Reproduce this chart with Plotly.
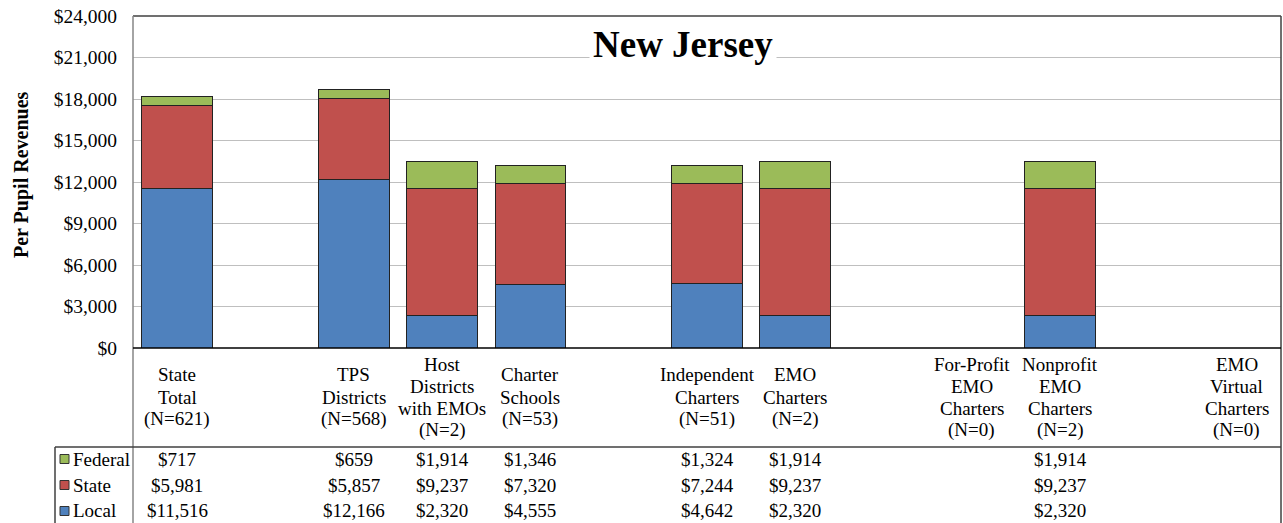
import plotly.graph_objects as go

# ---- data ----
categories = ["State<br>Total<br>(N=621)", "", "TPS<br>Districts<br>(N=568)",
              "Host<br>Districts<br>with EMOs<br>(N=2)", "Charter<br>Schools<br>(N=53)", "",
              "Independent<br>Charters<br>(N=51)", "EMO<br>Charters<br>(N=2)", "",
              "For-Profit<br>EMO<br>Charters<br>(N=0)", "Nonprofit<br>EMO<br>Charters<br>(N=2)", "",
              "EMO<br>Virtual<br>Charters<br>(N=0)"]
local = [11516, None, 12166, 2320, 4555, None, 4642, 2320, None, None, 2320, None, None]
state = [5981, None, 5857, 9237, 7320, None, 7244, 9237, None, None, 9237, None, None]
federal = [717, None, 659, 1914, 1346, None, 1324, 1914, None, None, 1914, None, None]
series_names = ["Federal", "State", "Local"]
colors = {"Local": "#4F81BD", "State": "#C0504D", "Federal": "#9BBB59"}
tick_vals = [0, 3000, 6000, 9000, 12000, 15000, 18000, 21000, 24000]
tick_text = ["$0", "$3,000", "$6,000", "$9,000", "$12,000", "$15,000", "$18,000", "$21,000", "$24,000"]

FONT = "Liberation Serif"
W, H = 1283, 523
L, R, T, B = 133, 2, 16, 175
PW, PH = W - L - R, H - T - B


def xp(px):
    return (px - L) / PW


def yp(py):
    return (H - B - py) / PH


xs = list(range(len(categories)))
fig = go.Figure()
for name, vals in [("Local", local), ("State", state), ("Federal", federal)]:
    fig.add_trace(go.Bar(x=xs, y=vals, name=name, marker_color=colors[name],
                         marker_line=dict(color="#222222", width=1), showlegend=False))

annotations = []
shapes = []
# category labels (one text per line, 22px line spacing, block centred at y=397)
LS = 22
for i, c in enumerate(categories):
    if c:
        lines = c.split("<br>")
        n = len(lines)
        for k, line in enumerate(lines):
            py = 397 + (k - (n - 1) / 2) * LS
            annotations.append(dict(x=i, xref="x", y=yp(py), yref="paper", text=line, showarrow=False,
                                    xanchor="center", yanchor="middle",
                                    font=dict(family=FONT, size=19, color="black")))
# table rows
rows = {"Federal": federal, "State": state, "Local": local}
row_y = {"Federal": 459, "State": 485, "Local": 511}
for name in series_names:
    vals = rows[name]
    y = yp(row_y[name])
    for i, v in enumerate(vals):
        if v is not None:
            annotations.append(dict(x=i, xref="x", y=y, yref="paper", text=f"${v:,}", showarrow=False,
                                    xanchor="center", yanchor="middle",
                                    font=dict(family=FONT, size=19, color="black")))
    annotations.append(dict(x=xp(71), xref="paper", y=y, yref="paper", text=name, showarrow=False,
                            xanchor="left", yanchor="middle",
                            font=dict(family=FONT, size=19, color="black")))
    shapes.append(dict(type="rect", xref="paper", yref="paper", x0=xp(60), x1=xp(69),
                       y0=yp(row_y[name] - 4.5), y1=yp(row_y[name] + 4.5),
                       fillcolor=colors[name], line=dict(color="#333333", width=1)))

# title
annotations.append(dict(x=xp(683), xref="paper", y=yp(45), yref="paper", text="<b>New Jersey</b>",
                        showarrow=False, xanchor="center", yanchor="middle", bgcolor="white", borderpad=3,
                        font=dict(family=FONT, size=37, color="black")))
# y axis title
annotations.append(dict(x=xp(21), xref="paper", y=yp(175), yref="paper", text="<b>Per Pupil Revenues</b>",
                        showarrow=False, xanchor="center", yanchor="middle", textangle=-90,
                        font=dict(family=FONT, size=20, color="black")))

# frame lines
shapes += [
    dict(type="line", xref="paper", yref="paper", x0=0, x1=1, y0=1, y1=1, line=dict(color="#404040", width=1.5)),
    dict(type="line", xref="paper", yref="paper", x0=1, x1=1, y0=1, y1=yp(523), line=dict(color="#404040", width=1.5)),
    dict(type="line", xref="paper", yref="paper", x0=0, x1=0, y0=1, y1=yp(523), line=dict(color="#868686", width=1.5)),
    dict(type="line", xref="paper", yref="paper", x0=0, x1=1, y0=0, y1=0, line=dict(color="black", width=1.5)),
    dict(type="line", xref="paper", yref="paper", x0=xp(55), x1=1, y0=yp(447), y1=yp(447), line=dict(color="#404040", width=1.5)),
    dict(type="line", xref="paper", yref="paper", x0=xp(55), x1=xp(55), y0=yp(447), y1=yp(523), line=dict(color="#404040", width=1.5)),
]

fig.update_layout(
    barmode="stack", bargap=0.2, width=W, height=H,
    margin=dict(l=L, r=R, t=T, b=B),
    paper_bgcolor="white", plot_bgcolor="white",
    font=dict(family=FONT, size=19, color="black"),
    hovermode=False,
    xaxis=dict(range=[-0.5, len(categories) - 0.5], showticklabels=False, showgrid=False,
               zeroline=False, showline=False, fixedrange=True),
    yaxis=dict(range=[0, 24000], tickvals=tick_vals, ticktext=tick_text, showgrid=True,
               gridcolor="#BFBFBF", gridwidth=1, zeroline=False, showline=False, fixedrange=True,
               ticklabelstandoff=15, tickfont=dict(family=FONT, size=19.5, color="black")),
    annotations=annotations, shapes=shapes,
)
fig.write_html("out.html", config={"displayModeBar": False},
               post_script="document.body.style.margin='0';document.body.style.overflow='hidden';")
